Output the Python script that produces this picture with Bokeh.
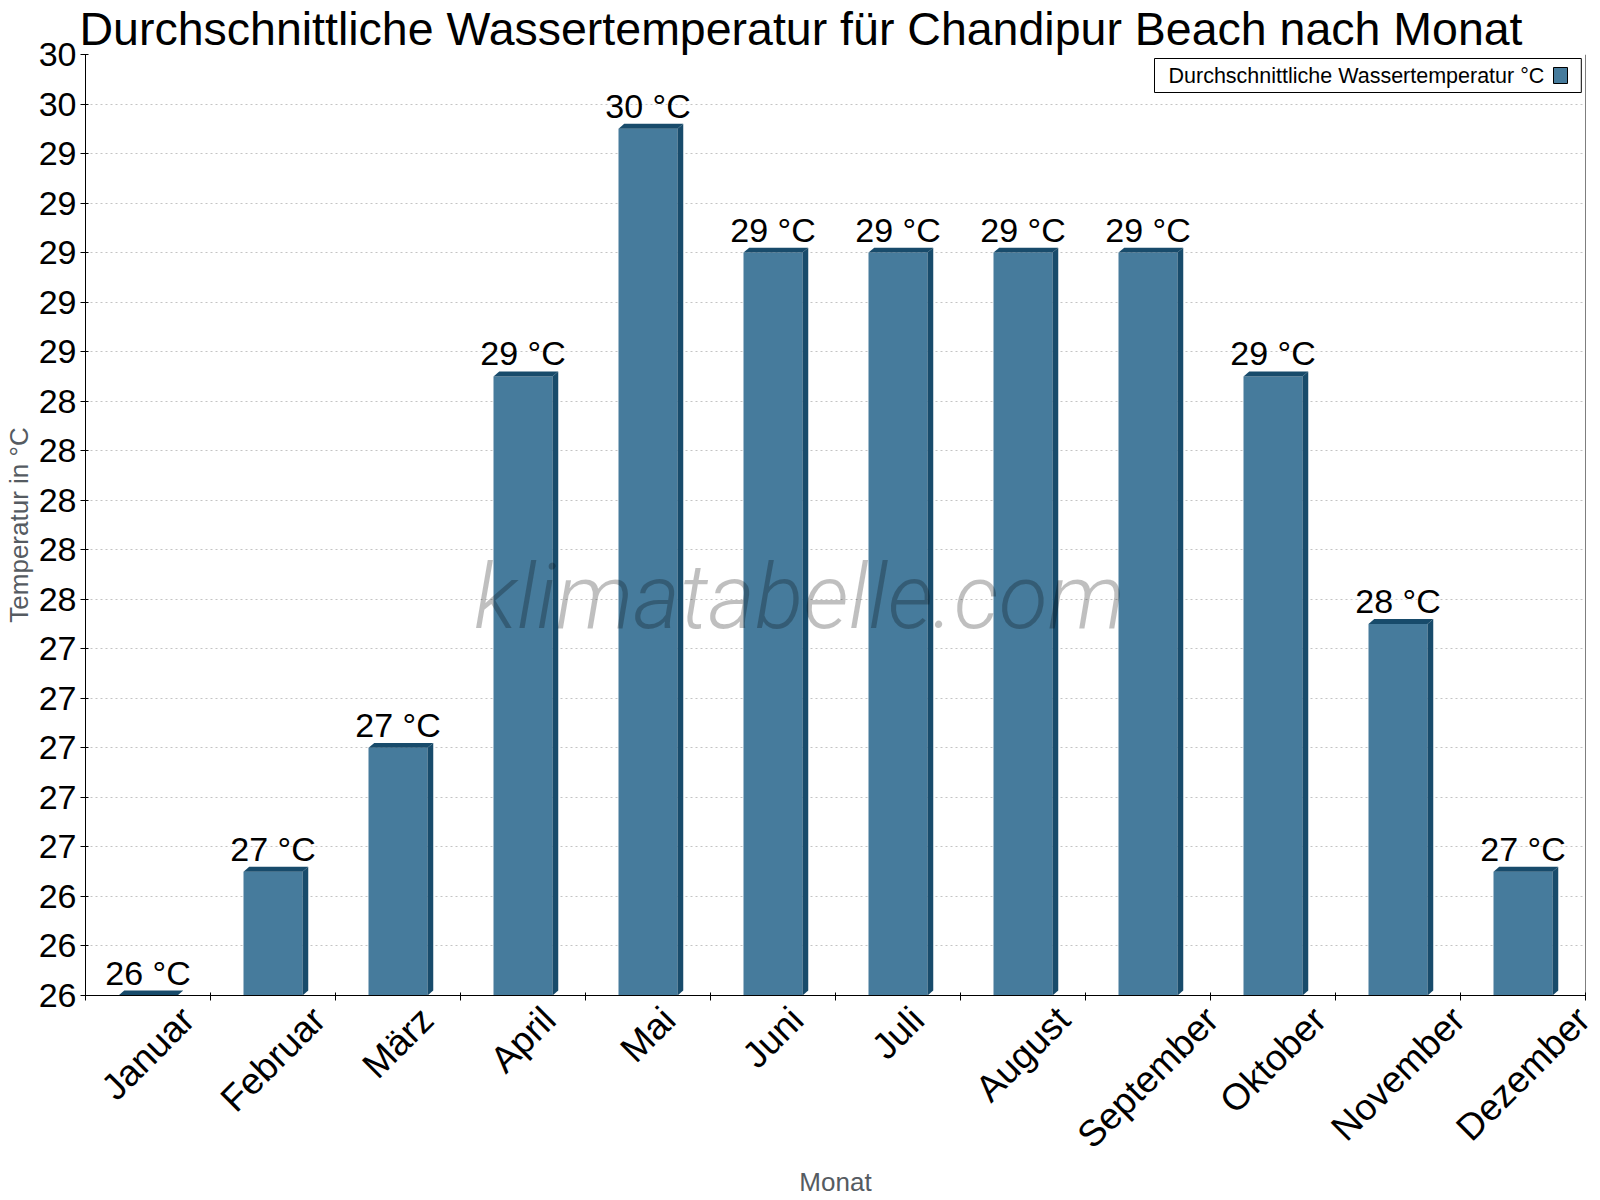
import math

from bokeh.core.properties import value
from bokeh.embed import file_html
from bokeh.models import (BoxAnnotation, ColumnDataSource, FixedTicker, Label,
                          NumeralTickFormatter, Range1d, Span)
from bokeh.plotting import figure
from bokeh.resources import INLINE

# ---- data -------------------------------------------------------------
months = ["Januar", "Februar", "März", "April", "Mai", "Juni", "Juli",
          "August", "September", "Oktober", "November", "Dezember"]
water_temp = [26.0, 26.5, 27.0, 28.5, 29.5, 29.0, 29.0, 29.0, 29.0, 28.5, 27.5, 26.5]
y_ticks = [26.0, 26.2, 26.4, 26.6, 26.8, 27.0, 27.2, 27.4, 27.6, 27.8,
           28.0, 28.2, 28.4, 28.6, 28.8, 29.0, 29.2, 29.4, 29.6, 29.8]
y_min, y_max = 26.0, 29.8
title_text = "Durchschnittliche Wassertemperatur für Chandipur Beach nach Monat"
series_name = "Durchschnittliche Wassertemperatur °C"

# ---- style ------------------------------------------------------------
FONT = "Liberation Sans"
FRONT = "#467b9c"
DARK = "#184b6b"
AXIS_LABEL_COLOR = "#555b61"
FRAME_W = 1500     # plot area width, px
BAR_W = 0.472      # front face width (category units)
DX = 0.046         # depth offset to the right (category units)
DY = 0.020         # depth offset upwards (degrees)
MONTH_FS = 37      # month label size, px

# advance widths (em) of Liberation Sans; the rotated month names are
# shifted by half their diagonal so that each one hangs centred below its bar
GLYPH_W = {"a": .556, "b": .556, "e": .556, "g": .556, "i": .222, "k": .5,
           "l": .222, "m": .833, "n": .556, "o": .556, "p": .556, "r": .333,
           "s": .5, "t": .278, "u": .556, "v": .5, "z": .5, "ä": .556,
           "A": .667, "D": .722, "F": .611, "J": .5, "M": .833, "N": .722,
           "O": .778, "S": .667}

n = len(months)
centers = [i + 0.5 for i in range(n)]
boundaries = list(range(n + 1))
px_per_cat = FRAME_W / n


def half_up(v):
    return int(math.floor(v + 0.5))


def text_width(s, size):
    return sum(GLYPH_W.get(ch, 0.55) for ch in s) * size


labels = [f"{half_up(v)} °C" for v in water_temp]
c45 = math.cos(math.pi / 4)
label_ticks = [round(c + c45 * text_width(m, MONTH_FS) / 2 / px_per_cat, 4)
               for c, m in zip(centers, months)]

p = figure(width=1600, height=1200, output_backend="svg", toolbar_location=None,
           x_range=Range1d(0, n), y_range=Range1d(y_min, y_max),
           min_border_left=85, min_border_right=15, min_border_top=0,
           min_border_bottom=205, title=title_text)
p.outline_line_color = None
p.background_fill_color = "white"
p.border_fill_color = "white"

p.title.text_font = FONT
p.title.text_font_size = "46.5px"
p.title.text_font_style = "normal"
p.title.text_color = "black"
p.title.align = "left"
p.title.offset = -6
p.title.standoff = 0

# ---- 3D-styled bars ----------------------------------------------------
lefts = [c - BAR_W / 2 for c in centers]
rights = [c + BAR_W / 2 for c in centers]
side_xs = [[r, r + DX, r + DX, r] for r in rights]
side_ys = [[y_min, y_min + DY, v + DY, v] for v in water_temp]
top_xs = [[l, l + DX, r + DX, r] for l, r in zip(lefts, rights)]
top_ys = [[v, v + DY, v + DY, v] for v in water_temp]

src = ColumnDataSource(dict(x=centers, top=water_temp, label=labels))
p.vbar(x="x", width=BAR_W, bottom=y_min, top="top", source=src,
       fill_color=FRONT, line_color=None)
p.patches(side_xs, side_ys, fill_color=DARK, line_color=None)
p.patches(top_xs, top_ys, fill_color=DARK, line_color=None)

p.text(x="x", y="top", text="label", source=src, text_align="center",
       text_baseline="alphabetic", y_offset=-23, text_font=value(FONT),
       text_font_size="34px", text_color="black")

# ---- axes ---------------------------------------------------------------
yax = p.yaxis[0]
yax.ticker = FixedTicker(ticks=y_ticks)
yax.formatter = NumeralTickFormatter(format="0")
yax.major_label_text_font = FONT
yax.major_label_text_font_size = "34px"
yax.major_label_text_color = "black"
yax.major_tick_out = 5
yax.major_tick_in = 3
yax.minor_tick_line_color = None
yax.axis_line_color = "black"
yax.major_label_standoff = 4
yax.axis_label = "Temperatur in °C"
yax.axis_label_text_font = FONT
yax.axis_label_text_font_size = "26px"
yax.axis_label_text_font_style = "normal"
yax.axis_label_text_color = AXIS_LABEL_COLOR
yax.axis_label_standoff = 2

xax = p.xaxis[0]
xax.ticker = FixedTicker(ticks=label_ticks, minor_ticks=boundaries)
xax.major_label_overrides = {t: m for t, m in zip(label_ticks, months)}
xax.major_label_orientation = math.pi / 4
xax.major_label_text_font = FONT
xax.major_label_text_font_size = f"{MONTH_FS}px"
xax.major_label_text_color = "black"
xax.major_tick_line_color = None
xax.major_tick_out = 0
xax.major_tick_in = 0
xax.minor_tick_out = 5
xax.minor_tick_in = 3
xax.minor_tick_line_color = "black"
xax.axis_line_color = "black"
xax.major_label_standoff = 13
xax.axis_label = "Monat"
xax.axis_label_text_font = FONT
xax.axis_label_text_font_size = "26px"
xax.axis_label_text_font_style = "normal"
xax.axis_label_text_color = AXIS_LABEL_COLOR
xax.axis_label_standoff = -6

p.xgrid.visible = False
p.ygrid.grid_line_color = "#c4c4c4"
p.ygrid.grid_line_dash = "2 3"

p.add_layout(Span(location=n, dimension="height", line_color="black", line_width=1))

# ---- watermark ----------------------------------------------------------
p.add_layout(Label(x=714, y=398, x_units="screen", y_units="screen",
                   text="klimatabelle.com", text_font="'Roboto Light', Roboto",
                   text_font_style="italic", text_font_size="90px",
                   text_color="black", text_alpha=0.25,
                   text_align="center", text_baseline="middle"))

# ---- legend box (text with swatch on the right) -------------------------
p.add_layout(Label(x=1069, y=920, x_units="screen", y_units="screen",
                   text=series_name, text_font=FONT, text_font_size="21.5px",
                   text_color="black", text_align="left", text_baseline="middle",
                   padding=dict(left=14, right=37, top=5, bottom=5),
                   border_line_color="black", border_line_width=1,
                   background_fill_color="white"))
p.add_layout(BoxAnnotation(left=1468, right=1482, top=928, bottom=912,
                           left_units="screen", right_units="screen",
                           top_units="screen", bottom_units="screen",
                           fill_color=FRONT, fill_alpha=1.0,
                           line_color="black", line_width=1, line_alpha=1.0))

open("out.html", "w").write(file_html(p, INLINE))
